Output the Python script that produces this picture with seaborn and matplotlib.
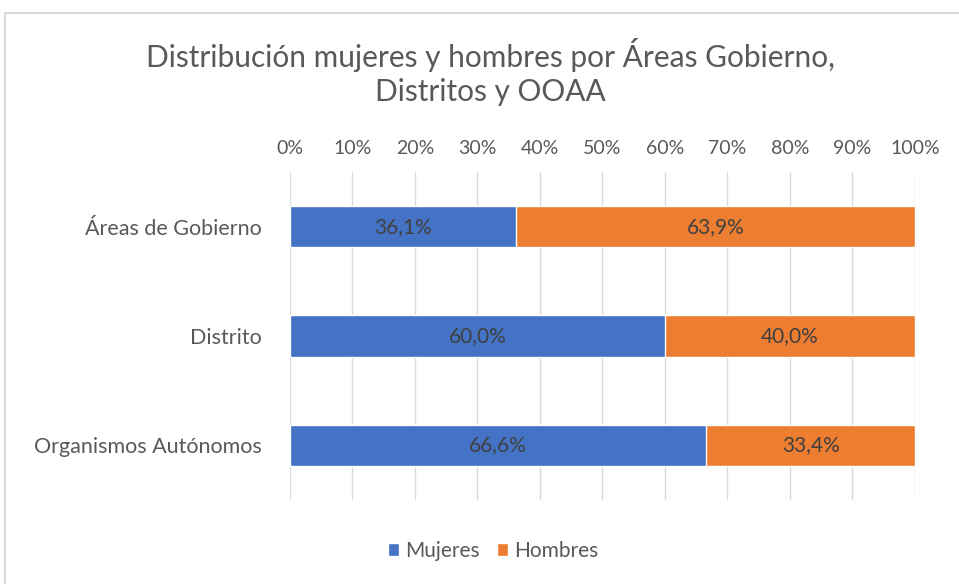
import pandas as pd
import matplotlib.pyplot as plt
import seaborn as sns
from matplotlib.patches import Rectangle
from matplotlib.ticker import PercentFormatter

sns.set_style('white')
plt.rcParams['font.family'] = ['Lato', 'DejaVu Sans']

categorias = ['Áreas de Gobierno', 'Distrito', 'Organismos Autónomos']
mujeres = [36.1, 60.0, 66.6]
hombres = [63.9, 40.0, 33.4]
ticks = [0, 10, 20, 30, 40, 50, 60, 70, 80, 90, 100]

df = pd.DataFrame({'cat': categorias, 'Mujeres': mujeres, 'Hombres': hombres})
df['total'] = df['Mujeres'] + df['Hombres']

azul = '#4472C4'
naranja = '#ED7D31'
gris = '#595959'

fig = plt.figure(figsize=(9.59, 5.84), dpi=100)
ax = fig.add_axes([0.3024, 0.1438, 0.6517, 0.5617])

# borde del grafico
fig.patches.append(Rectangle((5 / 959, -0.01), 1.0, 1 - 13 / 584 + 0.01, transform=fig.transFigure,
                             fill=False, edgecolor='#d9d9d9', linewidth=1.5))

sns.barplot(data=df, x='total', y='cat', color=naranja, width=0.38, ax=ax,
            saturation=1, label='Hombres', zorder=2)
sns.barplot(data=df, x='Mujeres', y='cat', color=azul, width=0.38, ax=ax,
            saturation=1, label='Mujeres', zorder=3)

for i, (m, h) in enumerate(zip(mujeres, hombres)):
    ax.text(m / 2, i, f'{m:.1f}%'.replace('.', ','), ha='center', va='center',
            fontsize=15, color='#404040', zorder=4)
    ax.text(m + h / 2, i, f'{h:.1f}%'.replace('.', ','), ha='center', va='center',
            fontsize=15, color='#404040', zorder=4)

ax.set_xlim(0, 100)
ax.set_ylim(2.5, -0.5)
ax.set_xticks(ticks)
ax.xaxis.set_major_formatter(PercentFormatter(decimals=0))
ax.xaxis.tick_top()
ax.tick_params(axis='x', length=0, pad=11, labelsize=14, labelcolor=gris)
ax.tick_params(axis='y', length=0, pad=20, labelsize=15.5, labelcolor=gris)
ax.grid(axis='x', color='#d9d9d9', linewidth=1, zorder=0)
ax.set_axisbelow(True)
ax.set_xlabel('')
ax.set_ylabel('')
for s in ax.spines.values():
    s.set_visible(False)

fig.text(0.511, 0.877, 'Distribución mujeres y hombres por Áreas Gobierno,\nDistritos y OOAA',
         ha='center', va='center', fontsize=21.5, color=gris, linespacing=1.25)

handles, labels = ax.get_legend_handles_labels()
orden = [labels.index('Mujeres'), labels.index('Hombres')]
ax.legend([handles[k] for k in orden], [labels[k] for k in orden],
          loc='center', bbox_to_anchor=(493 / 959, 1 - 551 / 584), bbox_transform=fig.transFigure,
          ncol=2, frameon=False, fontsize=15, labelcolor=gris, handlelength=0.55,
          handleheight=0.55, handletextpad=0.3, columnspacing=0.8)

fig.savefig('out.png', dpi=100)
